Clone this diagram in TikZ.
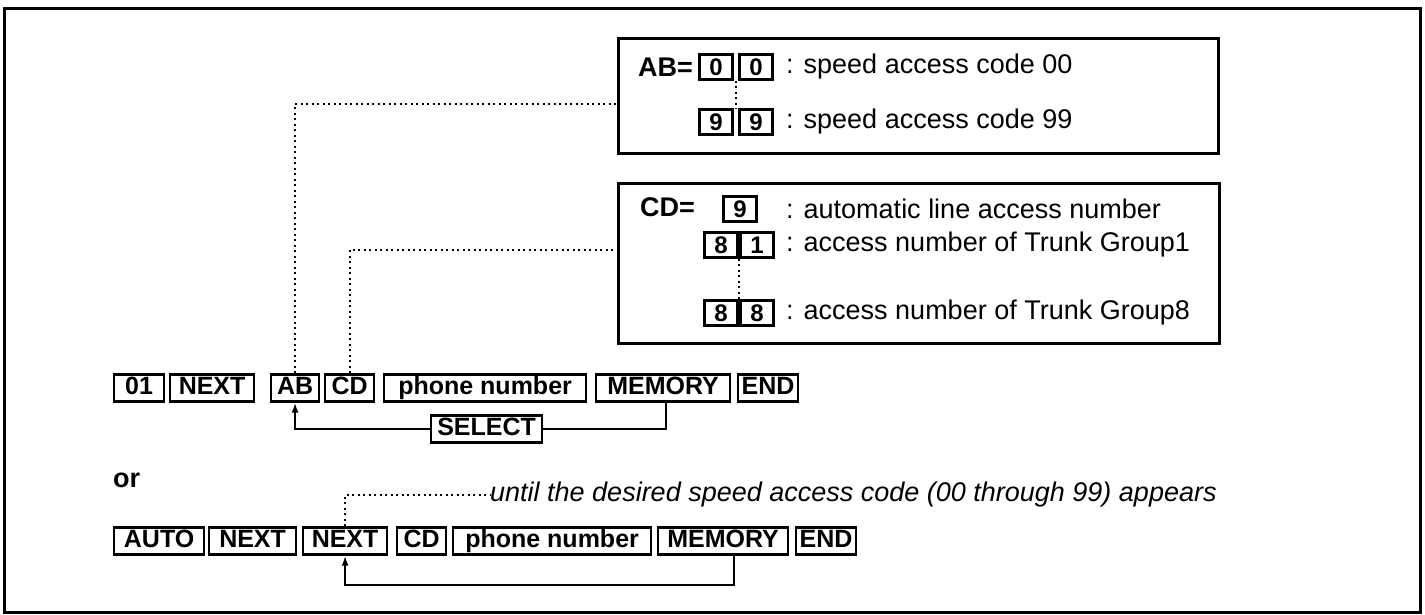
\documentclass[tikz,border=0pt]{standalone}
\usepackage{fontspec}
\setmainfont{Liberation Sans}
\usetikzlibrary{arrows.meta,calc}
\begin{document}
\begin{tikzpicture}[x=1pt,y=-1pt,
  key/.style={draw,line width=2.2pt,font=\fontsize{25}{28}\selectfont\bfseries,inner xsep=0pt,inner ysep=0pt,minimum height=27pt,text height=18pt,text depth=5pt,anchor=west},
  dig/.style={draw,line width=2.2pt,font=\fontsize{24}{28}\selectfont\bfseries,inner sep=0pt,minimum width=33pt,minimum height=25pt,text height=17pt,text depth=0pt},
  lbl/.style={font=\fontsize{27}{30}\selectfont,anchor=west,inner sep=0pt},
  bl/.style={font=\fontsize{27}{30}\selectfont\bfseries,anchor=west,inner sep=0pt},
  panel/.style={draw,line width=2.5pt,inner sep=0pt,anchor=north west},
  conn/.style={line width=2.2pt},
  dots/.style={line width=2pt,dash pattern=on 2pt off 3.5pt},
  arr/.style={conn,-{Latex[length=10pt,width=7pt]}}
]
\useasboundingbox (0,0) rectangle (1425,614);
\draw[line width=3pt] (4,8) rectangle (1420,612);

% AB panel
\node[panel,minimum width=600pt,minimum height=115pt] (abp) at (617,37) {};
\node[bl] (abeq) at (638,67) {AB=};
\node[dig] (a0) at (716,67) {0};
\node[dig] (a0b) at (756,67) {0};
\node[dig] (a9) at (716,122) {9};
\node[dig] (a9b) at (756,122) {9};
\node[lbl] (t00) at (786,67) {: speed access code 00};
\node[lbl] (t99) at (786,122) {: speed access code 99};
\draw[dots] ($(a0.south east)!0.5!(a0b.south west)$) -- ($(a9.north east)!0.5!(a9b.north west)$);

% CD panel
\node[panel,minimum width=601pt,minimum height=160pt] (cdp) at (617,182) {};
\node[bl] (cdeq) at (640,207) {CD=};
\node[dig] (c9) at (740,209) {9};
\node[lbl] (tauto) at (786,209) {: automatic line access number};
\node[dig] (c81a) at (721,245) {8};
\node[dig] (c81b) at (757,245) {1};
\node[lbl] (tg1) at (786,245) {: access number of Trunk Group1};
\node[dig] (c88a) at (721,313) {8};
\node[dig] (c88b) at (757,313) {8};
\node[lbl] (tg8) at (786,313) {: access number of Trunk Group8};
\draw[dots] ($(c81a.south east)!0.5!(c81b.south west)$) -- ($(c88a.north east)!0.5!(c88b.north west)$);

% Row 1
\node[key,minimum width=50pt] (k01) at (113,388) {01};
\node[key,minimum width=84pt] (kNext) at (169,388) {NEXT};
\node[key,minimum width=48pt] (kAB) at (270,388) {AB};
\node[key,minimum width=49pt] (kCD) at (324,388) {CD};
\node[key,minimum width=202pt] (kPhone) at (383,388) {phone number\hspace{14pt}};
\node[key,minimum width=134pt] (kMem) at (595,388) {MEMORY};
\node[key,minimum width=60pt] (kEnd) at (737,388) {END};
\node[key,minimum width=111pt] (sel) at (430,429) {SELECT};
\coordinate (m1) at ($(kMem.south west)!0.52!(kMem.south east)$);
\draw[conn] (m1) |- (sel.east);
\draw[arr] (sel.west) -| (kAB.south);

% dotted connectors to panels
\coordinate (abl) at (0,104);
\coordinate (cdl) at (0,250);
\draw[dots] (kAB.north) |- (abp.west |- abl);
\draw[dots] (kCD.north) |- (cdp.west |- cdl);

% or
\node[bl] (or) at (113,480) {or};

% Row 2
\node[lbl,font=\fontsize{27}{30}\selectfont\itshape] (until) at (490,495) {until the desired speed access code (00 through 99) appears};
\node[key,minimum width=90pt] (kAuto) at (113,541) {AUTO};
\node[key,minimum width=87pt] (kNextA) at (208,541) {NEXT};
\node[key,minimum width=84pt] (kNextB) at (302,541) {NEXT};
\node[key,minimum width=49pt] (kCD2) at (396,541) {CD};
\node[key,minimum width=198pt] (kPhone2) at (452,541) {phone number\hspace{14pt}};
\node[key,minimum width=130pt] (kMem2) at (657,541) {MEMORY};
\node[key,minimum width=60pt] (kEnd2) at (795,541) {END};
\draw[dots] (kNextB.north) |- (until.west);
\coordinate (m2) at ($(kMem2.south west)!0.58!(kMem2.south east)$);
\coordinate (r2) at (0,585);
\draw[arr] (m2) -- (m2 |- r2) -| (kNextB.south);
\end{tikzpicture}
\end{document}
